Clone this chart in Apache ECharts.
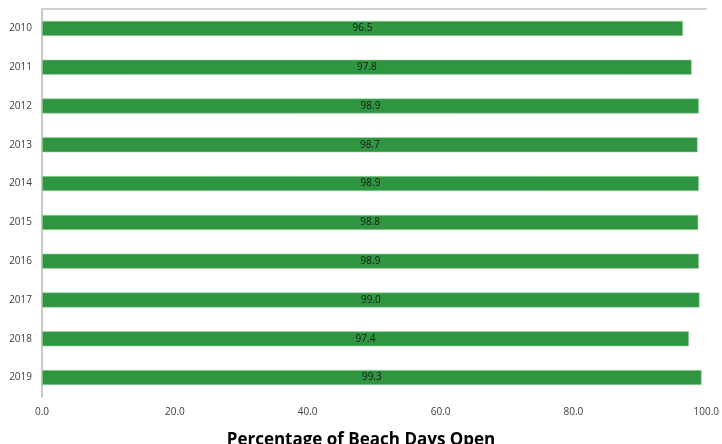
<!DOCTYPE html>
<html><head><meta charset="utf-8">
<script src="https://cdn.jsdelivr.net/npm/echarts@6/dist/echarts.min.js"></script>
<style>html,body{margin:0;padding:0;background:#fff}#c{width:722px;height:444px}</style>
</head><body><div id="c"></div>
<script>
const years = ['2010','2011','2012','2013','2014','2015','2016','2017','2018','2019'];
const pctOpen = [96.5, 97.8, 98.9, 98.7, 98.9, 98.8, 98.9, 99.0, 97.4, 99.3];
const xTicks = [0, 20, 40, 60, 80, 100];
const titleText = 'Percentage of Beach Days Open';

const chart = echarts.init(document.getElementById('c'), null, {renderer:'canvas'});
chart.setOption({
  animation: false,
  backgroundColor: '#fff',
  title: {
    text: titleText, left: 'center', top: 427,
    textStyle: {fontFamily: 'Open Sans', fontWeight: 'bold', fontSize: 17, color: '#000'}
  },
  grid: {left: 42, right: 13, top: 9, bottom: 47, containLabel: false},
  xAxis: [{
    type: 'value', min: xTicks[0], max: xTicks[xTicks.length-1], interval: 20,
    axisLine: {show: false}, axisTick: {show: false}, splitLine: {show: false},
    axisLabel: {formatter: v => v.toFixed(1), fontFamily: 'Open Sans', fontSize: 10, color: '#404040', margin: 10}
  }, {
    type: 'value', position: 'top', min: 0, max: 100,
    axisLine: {show: true, lineStyle: {color: '#d0d0d0', width: 2}},
    axisTick: {show: false}, axisLabel: {show: false}, splitLine: {show: false}
  }],
  yAxis: {
    type: 'category', data: years, inverse: true,
    axisLine: {show: true, lineStyle: {color: '#c8c8c8', width: 2}},
    axisTick: {show: false},
    axisLabel: {fontFamily: 'Open Sans', fontSize: 10, color: '#404040', margin: 10}
  },
  series: [{
    type: 'bar', data: pctOpen, barWidth: '39%',
    itemStyle: {color: '#2F9540', borderColor: '#a8d8a8', borderWidth: 0.6},
    label: {show: true, position: 'inside', formatter: p => p.value.toFixed(1),
      fontFamily: 'Open Sans', fontSize: 10, color: '#1a1a1a'}
  }]
});
</script></body></html>
